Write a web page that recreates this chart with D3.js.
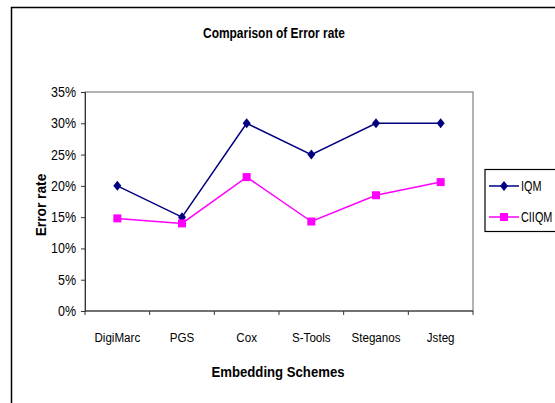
<!DOCTYPE html>
<html>
<head>
<meta charset="utf-8">
<script src="https://cdn.jsdelivr.net/npm/d3@7"></script>
<style>
  html, body { margin: 0; padding: 0; background: #fff; }
  svg { display: block; }
</style>
</head>
<body>
<svg id="chart" width="555" height="403"></svg>
<script>
// Error rate per embedding scheme
const schemes = ["DigiMarc", "PGS", "Cox", "S-Tools", "Steganos", "Jsteg"];
const iqm = [0.20, 0.15, 0.30, 0.25, 0.30, 0.30];
const ciiqm = [0.148, 0.140, 0.214, 0.143, 0.185, 0.206];
const yTicks = [0, 0.05, 0.10, 0.15, 0.20, 0.25, 0.30, 0.35];

const series = [
  { name: "IQM", values: iqm, color: "#000080", shape: "diamond" },
  { name: "CIIQM", values: ciiqm, color: "#FF00FF", shape: "square" }
];

const FONT = "Liberation Sans, Arial, sans-serif";
const svg = d3.select("#chart");
const plot = { left: 85, top: 92, right: 473, bottom: 311 };

// condensed text: placed at (x, y) and squeezed horizontally by sx
function label(parent, x, y, str, opts) {
  const o = Object.assign({ size: 12, sx: 1, anchor: "start", weight: "normal", rotate: 0 }, opts);
  return parent.append("text")
    .attr("transform", `translate(${x},${y}) rotate(${o.rotate}) scale(${o.sx},1)`)
    .attr("text-anchor", o.anchor)
    .attr("font-family", FONT)
    .attr("font-size", o.size)
    .attr("font-weight", o.weight)
    .attr("fill", "#000")
    .text(str);
}

// outer chart frame
svg.append("rect")
  .attr("x", 11.5).attr("y", 7.5)
  .attr("width", 600).attr("height", 450)
  .attr("fill", "#fff").attr("stroke", "#000").attr("stroke-width", 1.5);

const x = d3.scaleBand().domain(schemes).range([plot.left, plot.right]).padding(0);
const y = d3.scaleLinear().domain([0, 0.35]).range([plot.bottom, plot.top]);

// plot area border
svg.append("rect")
  .attr("x", plot.left).attr("y", plot.top)
  .attr("width", plot.right - plot.left).attr("height", plot.bottom - plot.top)
  .attr("fill", "#fff").attr("stroke", "#808080").attr("stroke-width", 1.2);

// y axis
const yAxis = svg.append("g")
  .attr("transform", `translate(${plot.left},0)`)
  .call(d3.axisLeft(y).tickValues(yTicks).tickSizeOuter(0).tickSize(4).tickFormat(""));
yAxis.select(".domain").attr("stroke", "#333");
yAxis.selectAll(".tick line").attr("stroke", "#333");
const pct = d3.format(".0%");
yTicks.forEach(t => label(svg, plot.left - 9, y(t) + 5, pct(t), { size: 14.5, sx: 0.86, anchor: "end" }));

// x axis: ticks on category boundaries
const boundaries = schemes.map(d => x(d)).concat([plot.right]);
const xg = svg.append("g").attr("transform", `translate(0,${plot.bottom})`);
xg.append("line").attr("x1", plot.left).attr("x2", plot.right)
  .attr("stroke", "#333").attr("stroke-width", 1.2);
xg.selectAll("line.tk").data(boundaries).join("line").attr("class", "tk")
  .attr("x1", d => d).attr("x2", d => d).attr("y1", 0).attr("y2", 4)
  .attr("stroke", "#333");
schemes.forEach(s => label(svg, x(s) + x.bandwidth() / 2, plot.bottom + 31, s, { size: 13.5, sx: 0.86, anchor: "middle" }));

// titles
label(svg, 274, 38, "Comparison of Error rate", { size: 15.5, sx: 0.77, anchor: "middle", weight: "bold" });
label(svg, 278, 377, "Embedding Schemes", { size: 14, sx: 0.94, anchor: "middle", weight: "bold" });
label(svg, 46, 205, "Error rate", { size: 14.5, sx: 0.95, anchor: "middle", weight: "bold", rotate: -90 });

// marker shapes
function marker(sel, shape, color) {
  if (shape === "diamond") {
    sel.append("path").attr("d", "M0,-5L4,0L0,5L-4,0Z").attr("fill", color);
  } else {
    sel.append("rect").attr("x", -4).attr("y", -4).attr("width", 8).attr("height", 8).attr("fill", color);
  }
}

const cx = d => x(d) + x.bandwidth() / 2;
series.forEach(s => {
  const pts = schemes.map((c, i) => [cx(c), y(s.values[i])]);
  svg.append("path")
    .attr("d", d3.line()(pts))
    .attr("fill", "none").attr("stroke", s.color).attr("stroke-width", 1.5);
  pts.forEach(p => {
    const g = svg.append("g").attr("transform", `translate(${p[0]},${p[1]})`);
    marker(g, s.shape, s.color);
  });
});

// legend
svg.append("rect")
  .attr("x", 485).attr("y", 169.5).attr("width", 100).attr("height", 62)
  .attr("fill", "#fff").attr("stroke", "#000").attr("stroke-width", 1.2);
series.forEach((s, i) => {
  const ly = 186 + i * 31;
  svg.append("line").attr("x1", 489).attr("x2", 519).attr("y1", ly).attr("y2", ly)
    .attr("stroke", s.color).attr("stroke-width", 1.5);
  const g = svg.append("g").attr("transform", `translate(504,${ly})`);
  marker(g, s.shape, s.color);
  label(svg, 521, ly + 5, s.name, { size: 14.5, sx: 0.75 });
});
</script>
</body>
</html>
